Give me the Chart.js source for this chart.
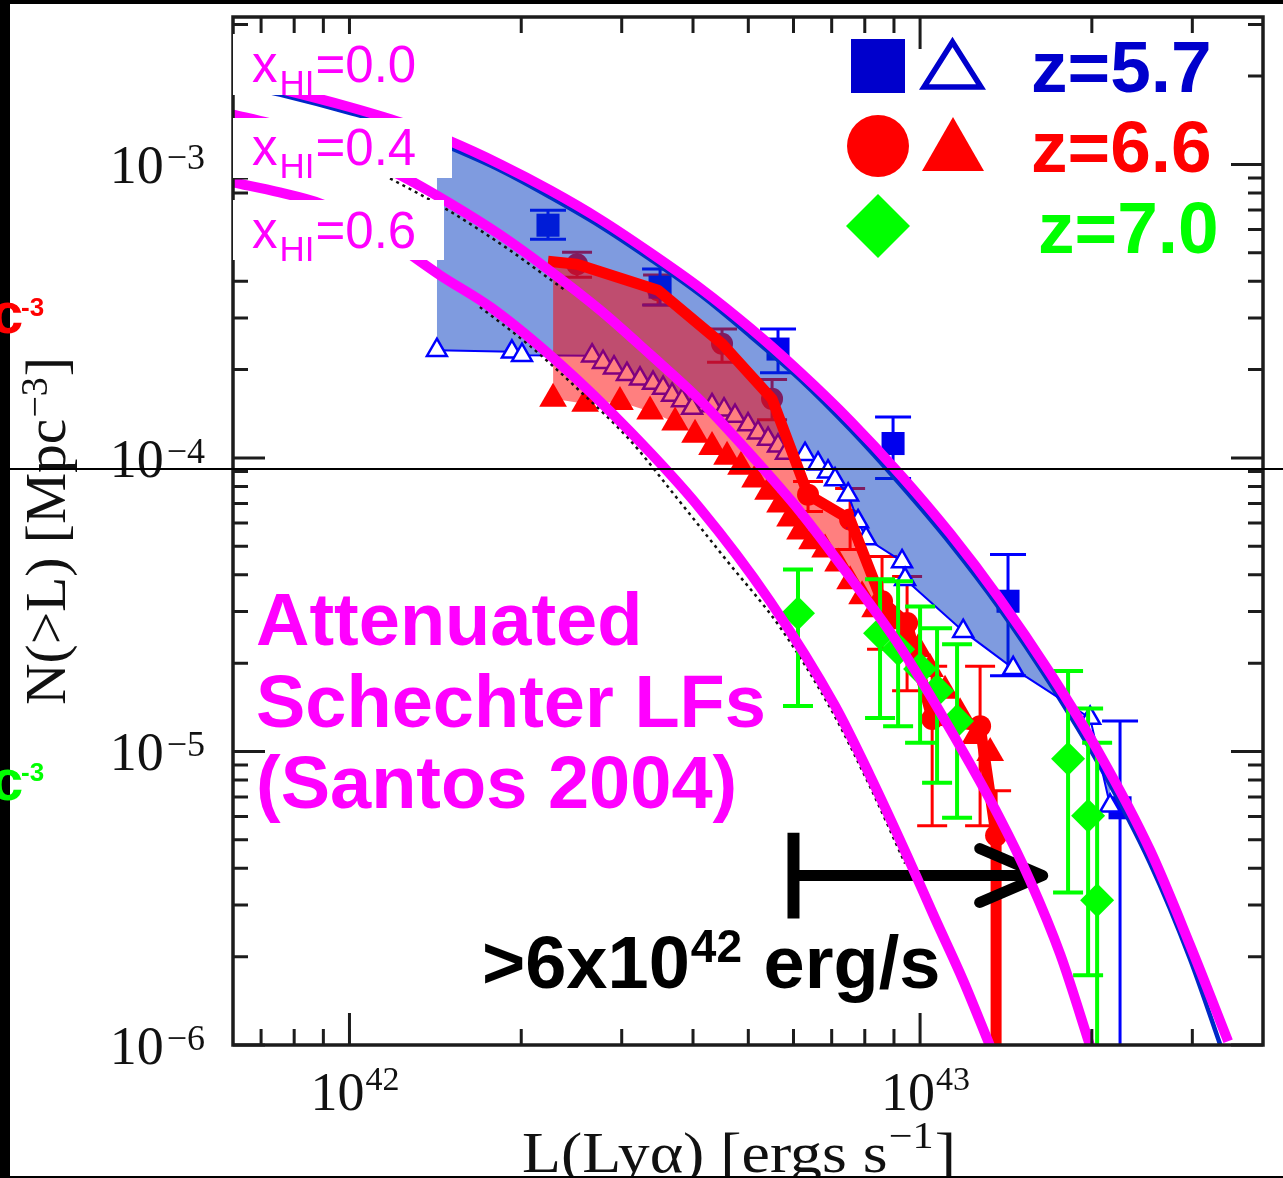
<!DOCTYPE html>
<html>
<head>
<meta charset="utf-8">
<script src="https://cdn.jsdelivr.net/npm/chart.js@4.4.1/dist/chart.umd.min.js"></script>
<style>
  html, body { margin: 0; padding: 0; background: #000; }
  canvas { display: block; }
</style>
</head>
<body>
<canvas id="lf" width="1283" height="1178"></canvas>
<script>
// ---- axis ranges and tick labels ----
const X_MIN = 6.25e41, X_MAX = 3.99e43;
const Y_MIN = 1e-6, Y_MAX = 3.18e-3;
const xMajorTicks = [1e42, 1e43];
const xMajorExp = ['42', '43'];
const yMajorTicks = [1e-6, 1e-5, 1e-4, 1e-3];
const yMajorExp = ['\u22126', '\u22125', '\u22124', '\u22123'];

// ---- attenuated Schechter LFs (Santos 2004), cumulative N(>L) ----
const schL_00 = [6.25e41, 7.55e41, 1.00e42, 1.23e42, 1.50e42, 1.84e42, 2.25e42, 2.75e42, 3.36e42, 4.12e42, 5.04e42, 6.16e42, 7.54e42, 9.23e42, 1.129e43, 1.381e43, 1.690e43, 2.068e43, 2.531e43, 2.973e43, 3.466e43];
const schN_00 = [1.97e-3, 1.81e-3, 1.57e-3, 1.39e-3, 1.20e-3, 1.00e-3, 8.16e-4, 6.50e-4, 5.02e-4, 3.79e-4, 2.77e-4, 1.96e-4, 1.34e-4, 8.78e-5, 5.53e-5, 3.30e-5, 1.85e-5, 9.74e-6, 4.60e-6, 2.19e-6, 1.03e-6];
const schL_04 = [6.25e41, 7.26e41, 8.19e41, 1.00e42, 1.23e42, 1.50e42, 1.84e42, 2.25e42, 2.75e42, 3.36e42, 4.12e42, 5.04e42, 6.16e42, 7.54e42, 9.23e42, 1.129e43, 1.381e43, 1.559e43, 1.760e43, 2.002e43];
const schN_04 = [1.48e-3, 1.38e-3, 1.28e-3, 1.10e-3, 9.17e-4, 7.37e-4, 5.74e-4, 4.33e-4, 3.19e-4, 2.26e-4, 1.57e-4, 1.03e-4, 6.57e-5, 3.92e-5, 2.27e-5, 1.19e-5, 5.90e-6, 3.63e-6, 2.04e-6, 9.46e-7];
const schL_06 = [6.25e41, 7.55e41, 8.88e41, 1.043e42, 1.226e42, 1.440e42, 1.777e42, 2.339e42, 3.102e42, 4.115e42, 5.459e42, 7.096e42, 8.173e42, 9.489e42, 1.062e43, 1.190e43, 1.327e43];
const schN_06 = [8.69e-4, 8.03e-4, 7.37e-4, 6.40e-4, 5.22e-4, 4.20e-4, 3.24e-4, 2.09e-4, 1.23e-4, 6.73e-5, 3.25e-5, 1.43e-5, 8.26e-6, 4.42e-6, 2.70e-6, 1.66e-6, 9.9e-7];
// unattenuated reference curves (dotted)
const refL_04 = [1.178e42, 1.329e42, 1.501e42, 1.693e42, 1.911e42, 2.158e42, 2.386e42];
const refN_04 = [8.96e-4, 7.91e-4, 6.92e-4, 5.97e-4, 5.10e-4, 4.30e-4, 3.73e-4];
const refL_06 = [1.693e42, 2.072e42, 2.535e42, 3.102e42, 3.720e42, 4.551e42, 5.683e42, 6.955e42, 8.173e42, 9.413e42];
const refN_06 = [3.27e-4, 2.41e-4, 1.69e-4, 1.15e-4, 7.44e-5, 4.55e-5, 2.65e-5, 1.41e-5, 7.58e-6, 4.15e-6];

// ---- z=5.7 ----
const fitL_57 = [6.25e41, 7.55e41, 1.00e42, 1.23e42, 1.50e42, 1.84e42, 2.25e42, 2.75e42, 3.36e42, 4.12e42, 5.04e42, 6.16e42, 7.54e42, 9.23e42, 1.129e43, 1.381e43, 1.690e43, 2.068e43, 2.531e43, 2.973e43, 3.383e43];
const fitN_57 = [1.88e-3, 1.73e-3, 1.50e-3, 1.33e-3, 1.14e-3, 9.54e-4, 7.73e-4, 6.16e-4, 4.76e-4, 3.59e-4, 2.60e-4, 1.85e-4, 1.25e-4, 8.12e-5, 5.11e-5, 3.05e-5, 1.70e-5, 8.87e-6, 4.15e-6, 1.96e-6, 9.6e-7];
const z57phL = [2.228e42, 3.502e42, 5.637e42, 8.967e42, 1.426e43, 2.241e43];
const z57phN = [6.21e-4, 3.82e-4, 2.35e-4, 1.12e-4, 3.25e-5, 6.43e-6];
const z57phHi = [6.98e-4, 4.40e-4, 2.75e-4, 1.38e-4, 4.69e-5, 1.27e-5];
const z57phLo = [5.56e-4, 3.32e-4, 1.95e-4, 8.51e-5, 1.81e-5, 1e-7];
const z57spL = [1.423e42, 1.926e42, 2.006e42, 2.662e42, 2.782e42, 2.908e42, 3.064e42, 3.230e42, 3.404e42, 3.545e42, 3.676e42, 3.827e42, 3.985e42, 4.319e42, 4.533e42, 4.739e42, 4.995e42, 5.200e42, 5.415e42, 5.637e42, 5.822e42, 6.286e42, 6.625e42, 6.897e42, 7.096e42, 7.480e42, 7.786e42, 8.042e42, 9.298e42, 9.413e42, 1.190e43, 1.456e43, 1.986e43, 2.153e43];
const z57spN = [2.33e-4, 2.30e-4, 2.24e-4, 2.23e-4, 2.12e-4, 2.03e-4, 1.93e-4, 1.86e-4, 1.80e-4, 1.73e-4, 1.64e-4, 1.57e-4, 1.48e-4, 1.51e-4, 1.46e-4, 1.39e-4, 1.30e-4, 1.22e-4, 1.16e-4, 1.10e-4, 1.04e-4, 1.03e-4, 9.56e-5, 8.98e-5, 8.44e-5, 7.50e-5, 6.08e-5, 5.32e-5, 4.44e-5, 3.86e-5, 2.57e-5, 1.92e-5, 1.30e-5, 6.53e-6];

// ---- z=6.6 ----
const z66phL = [2.505e42, 3.474e42, 4.497e42, 5.503e42, 6.363e42, 7.540e42, 8.577e42, 9.489e42, 1.050e43, 1.274e43, 1.359e43];
const z66phN = [4.57e-4, 3.73e-4, 2.45e-4, 1.59e-4, 7.50e-5, 6.17e-5, 3.25e-5, 2.74e-5, 1.29e-5, 1.22e-5, 5.17e-6];
const z66phHi = [5.02e-4, 4.20e-4, 2.75e-4, 1.85e-4, 8.31e-5, 7.87e-5, 4.62e-5, 3.95e-5, 1.95e-5, 1.95e-5, 7.35e-6];
const z66phLo = [4.13e-4, 3.32e-4, 2.12e-4, 1.35e-4, 6.57e-5, 4.88e-5, 2.23e-5, 1.61e-5, 5.59e-6, 5.59e-6, 1e-7];
const z66bandStart = { x: 2.228e42, y: 4.68e-4 };   // left edge of the shaded z=6.6 band
const z66bandEndN = 1e-7;                            // last bin drops to zero
const z66spL = [2.274e42, 2.588e42, 2.979e42, 3.364e42, 3.721e42, 4.033e42, 4.319e42, 4.589e42, 4.855e42, 5.138e42, 5.415e42, 5.683e42, 5.917e42, 6.160e42, 6.466e42, 6.815e42, 7.183e42, 7.540e42, 7.913e42, 8.339e42, 8.859e42, 9.413e42, 9.920e42, 1.041e43, 1.106e43, 1.175e43, 1.249e43, 1.327e43];
const z66spN = [1.59e-4, 1.53e-4, 1.55e-4, 1.44e-4, 1.32e-4, 1.20e-4, 1.09e-4, 1.01e-4, 9.34e-5, 8.44e-5, 7.68e-5, 6.94e-5, 6.22e-5, 5.62e-5, 5.20e-5, 4.88e-5, 4.37e-5, 3.80e-5, 3.38e-5, 3.05e-5, 2.78e-5, 2.53e-5, 2.23e-5, 1.91e-5, 1.61e-5, 1.35e-5, 1.13e-5, 9.89e-6];

// ---- z=7.0 ----
const z70L = [6.110e42, 8.508e42, 9.151e42, 1.000e43, 1.071e43, 1.161e43, 1.817e43, 1.970e43, 2.043e43];
const z70N = [2.96e-5, 2.53e-5, 2.23e-5, 1.91e-5, 1.61e-5, 1.27e-5, 9.44e-6, 6.04e-6, 3.11e-6];
const z70Hi = [4.17e-5, 3.86e-5, 3.80e-5, 3.12e-5, 2.63e-5, 2.32e-5, 1.88e-5, 1.40e-5, 1.07e-5];
const z70Lo = [1.43e-5, 1.30e-5, 1.22e-5, 1.07e-5, 7.82e-6, 5.95e-6, 3.31e-6, 1.73e-6, 1e-7];

// ---- luminosity limit arrow ----
const limitL = 6e42, arrowTipL = 1.64e43, arrowN = 3.78e-6, barTopN = 5.29e-6, barBotN = 2.70e-6;

const pts = (xs, ys) => xs.map((x, i) => ({ x, y: ys[i] }));
const z66line = [z66bandStart, ...pts(z66phL, z66phN), { x: z66phL[z66phL.length - 1], y: z66bandEndN }];

const MAGENTA = '#ff00ff';
const SANS = '"Liberation Sans", Arial, sans-serif';
const SERIF = '"Liberation Serif", "Times New Roman", serif';

const datasets = [
  { label: 'z66ph', data: pts(z66phL, z66phN), showLine: false, pointStyle: 'circle', pointRadius: 11,
    pointBackgroundColor: '#ff0000', pointBorderWidth: 0, fill: false,
    errHi: z66phHi, errLo: z66phLo, errColor: '#ff0000', errWidth: 3, errCap: 15, order: 100 },
  { label: 'z57ph', data: pts(z57phL, z57phN), showLine: false, pointStyle: 'rect', pointRadius: 16.3,
    pointBackgroundColor: '#0000ee', pointBorderWidth: 0, fill: false,
    errHi: z57phHi, errLo: z57phLo, errColor: '#0000ff', errWidth: 3, errCap: 18, order: 90 },
  { label: 'z57fit', data: pts(fitL_57, fitN_57), borderColor: '#0028c8', borderWidth: 4.5, pointRadius: 0,
    cubicInterpolationMode: 'monotone', fill: false, order: 80 },
  { label: 'z57sp', data: pts(z57spL, z57spN), borderColor: '#0000ff', borderWidth: 2,
    pointStyle: 'triangle', pointRadius: 11.5, pointBorderColor: '#0000ff', pointBackgroundColor: '#ffffff',
    pointBorderWidth: 2.5, backgroundColor: 'rgba(0,55,192,0.5)',
    fill: { target: 2, above: 'rgba(0,0,0,0)', below: 'rgba(0,55,192,0.5)' }, order: 70 },
  { label: 'z66sp', data: pts(z66spL, z66spN), borderWidth: 0, borderColor: 'rgba(0,0,0,0)',
    pointStyle: 'triangle', pointRadius: 16, pointBackgroundColor: '#ff0000', pointBorderWidth: 0,
    backgroundColor: 'rgba(255,0,0,0.5)',
    fill: { target: 5, above: 'rgba(0,0,0,0)', below: 'rgba(255,0,0,0.5)' }, order: 60 },
  { label: 'z66line', data: z66line, borderColor: '#ff0000', borderWidth: 11, pointRadius: 0,
    borderJoinStyle: 'round', fill: false, order: 50 },
  { label: 'ref04', data: pts(refL_04, refN_04), borderColor: '#111', borderWidth: 2.5, borderDash: [3, 4],
    pointRadius: 0, cubicInterpolationMode: 'monotone', fill: false, order: 46 },
  { label: 'ref06', data: pts(refL_06, refN_06), borderColor: '#111', borderWidth: 2.5, borderDash: [3, 4],
    pointRadius: 0, cubicInterpolationMode: 'monotone', fill: false, order: 45 },
  { label: 'z70', data: pts(z70L, z70N), showLine: false, pointStyle: 'rectRot', pointRadius: 17,
    pointBackgroundColor: '#00ff00', pointBorderWidth: 0, fill: false,
    errHi: z70Hi, errLo: z70Lo, errColor: '#00ff00', errWidth: 4, errCap: 15, order: 44 },
  { label: 'xHI06', data: pts(schL_06, schN_06), borderColor: MAGENTA, borderWidth: 10, pointRadius: 0,
    cubicInterpolationMode: 'monotone', fill: false, order: 40 },
  { label: 'xHI04', data: pts(schL_04, schN_04), borderColor: MAGENTA, borderWidth: 10, pointRadius: 0,
    cubicInterpolationMode: 'monotone', fill: false, order: 39 },
  { label: 'xHI00', data: pts(schL_00, schN_00), borderColor: MAGENTA, borderWidth: 10, pointRadius: 0,
    cubicInterpolationMode: 'monotone', fill: false, order: 38 }
];

function minorTicks(min, max) {
  const out = [];
  for (let k = Math.floor(Math.log10(min)); k <= Math.ceil(Math.log10(max)); k++) {
    for (let m = 2; m <= 9; m++) {
      const v = m * Math.pow(10, k);
      if (v > min && v < max) out.push(v);
    }
  }
  return out;
}

function drawArrow(chart) {
  const { ctx, scales: { x, y } } = chart;
  const x0 = x.getPixelForValue(limitL), x1 = x.getPixelForValue(arrowTipL);
  const yA = y.getPixelForValue(arrowN);
  const yT = y.getPixelForValue(barTopN), yB = y.getPixelForValue(barBotN);
  ctx.save();
  ctx.strokeStyle = '#000';
  ctx.lineWidth = 12; ctx.lineCap = 'butt';
  ctx.beginPath(); ctx.moveTo(x0, yT); ctx.lineTo(x0, yB); ctx.stroke();
  ctx.lineWidth = 11;
  ctx.beginPath(); ctx.moveTo(x0, yA); ctx.lineTo(x1 - 4, yA); ctx.stroke();
  ctx.lineCap = 'round'; ctx.lineJoin = 'round';
  ctx.beginPath(); ctx.moveTo(x1 - 63, yA - 27); ctx.lineTo(x1, yA); ctx.lineTo(x1 - 63, yA + 27); ctx.stroke();
  ctx.restore();
}

function drawFrame(chart) {
  const { ctx, chartArea: a, scales: { x, y } } = chart;
  ctx.save();
  ctx.strokeStyle = '#1c1c1c';
  ctx.lineWidth = 3;
  const xt = [...xMajorTicks.map(v => [v, 32]), ...minorTicks(X_MIN, X_MAX).map(v => [v, 16])];
  const yt = [...yMajorTicks.map(v => [v, 32]), ...minorTicks(Y_MIN, Y_MAX).map(v => [v, 15])];
  ctx.beginPath();
  xt.forEach(([v, len]) => {
    const px = x.getPixelForValue(v);
    ctx.moveTo(px, a.bottom); ctx.lineTo(px, a.bottom - len);
    ctx.moveTo(px, a.top); ctx.lineTo(px, a.top + len);
  });
  yt.forEach(([v, len]) => {
    const py = y.getPixelForValue(v);
    ctx.moveTo(a.left, py); ctx.lineTo(a.left + len, py);
    ctx.moveTo(a.right, py); ctx.lineTo(a.right - len, py);
  });
  ctx.stroke();
  ctx.lineWidth = 3.5;
  ctx.strokeRect(a.left, a.top, a.right - a.left, a.bottom - a.top);

  // tick labels
  ctx.fillStyle = '#111';
  ctx.textBaseline = 'alphabetic';
  yMajorTicks.forEach((v, i) => {
    const py = y.getPixelForValue(v);
    ctx.font = '36px ' + SERIF;
    const sw = ctx.measureText(yMajorExp[i]).width;
    ctx.fillText(yMajorExp[i], 205 - sw, py + 5);
    ctx.font = '54px ' + SERIF;
    const tw = ctx.measureText('10').width;
    ctx.fillText('10', 205 - sw - 3 - tw, py + 19);
  });
  xMajorTicks.forEach((v, i) => {
    const px = x.getPixelForValue(v);
    ctx.font = '54px ' + SERIF;
    const tw = ctx.measureText('10').width;
    ctx.font = '34px ' + SERIF;
    const sw = ctx.measureText(xMajorExp[i]).width;
    const left = px + 5 - (tw + sw) / 2;
    ctx.fillText(xMajorExp[i], left + tw + 1, 1090);
    ctx.font = '54px ' + SERIF;
    ctx.fillText('10', left, 1110);
  });

  // axis titles
  const title = (p1, sup, p3, target, raise) => {
    ctx.font = '56px ' + SERIF; const w1 = ctx.measureText(p1).width; const w3 = ctx.measureText(p3).width;
    ctx.font = '37px ' + SERIF; const ws = ctx.measureText(sup).width;
    ctx.scale(target / (w1 + ws + w3 + 2), 1);
    ctx.font = '56px ' + SERIF; ctx.fillText(p1, 0, 0); ctx.fillText(p3, w1 + ws + 2, 0);
    ctx.font = '37px ' + SERIF; ctx.fillText(sup, w1 + 1, -raise);
  };
  ctx.save();
  ctx.translate(522, 1172);
  title('L(Ly\u03b1) [ergs s', '\u22121', ']', 434, 24);
  ctx.restore();
  ctx.save();
  ctx.translate(65, 705);
  ctx.rotate(-Math.PI / 2);
  title('N(>L) [Mpc', '\u22123', ']', 348, 18);
  ctx.restore();
  ctx.restore();
}

function drawNotes(chart) {
  const { ctx } = chart;
  ctx.save();
  ctx.textBaseline = 'alphabetic';
  // model annotation
  ctx.fillStyle = MAGENTA;
  ctx.font = 'bold 74px ' + SANS;
  ctx.fillText('Attenuated', 256, 645);
  ctx.fillText('Schechter LFs', 256, 727);
  ctx.fillText('(Santos 2004)', 256, 808);

  // luminosity limit label
  ctx.fillStyle = '#000';
  ctx.font = 'bold 74px ' + SANS;
  ctx.fillText('>6x10', 482, 988);
  const w = ctx.measureText('>6x10').width;
  ctx.font = 'bold 46px ' + SANS;
  ctx.fillText('42', 482 + w + 1, 962);
  const w2 = ctx.measureText('42').width;
  ctx.font = 'bold 74px ' + SANS;
  ctx.fillText(' erg/s', 482 + w + w2 + 2, 988);

  // legend
  ctx.fillStyle = '#0000cc';
  ctx.fillRect(851, 39, 54, 54);
  ctx.strokeStyle = '#0000cc'; ctx.lineWidth = 5.5; ctx.lineJoin = 'miter';
  ctx.beginPath(); ctx.moveTo(952.5, 42); ctx.lineTo(981, 87); ctx.lineTo(924, 87); ctx.closePath(); ctx.stroke();
  ctx.fillStyle = '#ff0000';
  ctx.beginPath(); ctx.arc(878, 146, 31, 0, Math.PI * 2); ctx.fill();
  ctx.beginPath(); ctx.moveTo(953, 117); ctx.lineTo(984, 171); ctx.lineTo(922, 171); ctx.closePath(); ctx.fill();
  ctx.fillStyle = '#00ff00';
  ctx.beginPath(); ctx.moveTo(878, 194); ctx.lineTo(910, 226); ctx.lineTo(878, 258); ctx.lineTo(846, 226); ctx.closePath(); ctx.fill();
  ctx.font = 'bold 73px ' + SANS;
  ctx.fillStyle = '#0000cc'; ctx.fillText('z=5.7', 1031, 92);
  ctx.fillStyle = '#ff0000'; ctx.fillText('z=6.6', 1031, 172);
  ctx.fillStyle = '#00ff00'; ctx.fillText('z=7.0', 1038, 253);

  // neutral fraction labels on white boxes
  const boxes = [[34, 95, 460, '0.0', 82], [118, 178, 452, '0.4', 165], [200, 260, 444, '0.6', 248]];
  boxes.forEach(([top, bottom, right, val, base]) => {
    ctx.fillStyle = '#fff';
    ctx.fillRect(233, top, right - 233, bottom - top);
    ctx.fillStyle = MAGENTA;
    ctx.font = '51px ' + SANS;
    ctx.fillText('x', 252, base);
    const xw = ctx.measureText('x').width;
    ctx.font = '35px ' + SANS;
    ctx.fillText('HI', 252 + xw + 2, base + 13);
    const hw = ctx.measureText('HI').width;
    ctx.font = '51px ' + SANS;
    ctx.fillText('=' + val, 252 + xw + hw + 3, base);
  });
  ctx.restore();
}

const slidePlugin = {
  id: 'slidePlugin',
  beforeDraw(chart) {
    const { ctx, width, height } = chart;
    ctx.save();
    ctx.fillStyle = '#000';
    ctx.fillRect(0, 0, width, height);
    ctx.fillStyle = '#fff';
    ctx.fillRect(10, 4, width - 10, 1172);
    ctx.restore();
  },
  beforeDatasetDraw(chart, args) {
    const ds = chart.data.datasets[args.index];
    if (!ds.errHi) return;
    const { ctx, chartArea: a, scales: { x, y } } = chart;
    ctx.save();
    ctx.beginPath(); ctx.rect(a.left, a.top, a.right - a.left, a.bottom - a.top); ctx.clip();
    ctx.strokeStyle = ds.errColor;
    ctx.lineWidth = ds.errWidth;
    ctx.beginPath();
    ds.data.forEach((p, i) => {
      const px = x.getPixelForValue(p.x);
      const hi = y.getPixelForValue(ds.errHi[i]);
      const lo = y.getPixelForValue(ds.errLo[i]);
      ctx.moveTo(px, hi); ctx.lineTo(px, lo);
      ctx.moveTo(px - ds.errCap, hi); ctx.lineTo(px + ds.errCap, hi);
      if (lo < a.bottom) { ctx.moveTo(px - ds.errCap, lo); ctx.lineTo(px + ds.errCap, lo); }
    });
    ctx.stroke();
    ctx.restore();
  },
  afterDatasetDraw(chart, args) {
    if (chart.data.datasets[args.index].label === 'z70') drawArrow(chart);
  },
  afterDatasetsDraw(chart) {
    drawFrame(chart);
    drawNotes(chart);
  },
  afterDraw(chart) {
    const { ctx, width } = chart;
    ctx.save();
    ctx.fillStyle = '#000';
    ctx.fillRect(0, 1176, width, 2);
    ctx.strokeStyle = '#000';
    ctx.lineWidth = 2;
    ctx.beginPath(); ctx.moveTo(0, 469); ctx.lineTo(width, 469); ctx.stroke();
    // edges of the neighbouring panel's axis units
    ctx.font = 'bold 58px ' + SANS;
    ctx.fillStyle = '#ff0000'; ctx.fillText('c', -9, 333);
    ctx.fillStyle = '#00ff00'; ctx.fillText('c', -9, 800);
    ctx.font = 'bold 26px ' + SANS;
    ctx.fillStyle = '#ff0000'; ctx.fillText('-3', 21, 316);
    ctx.fillStyle = '#00ff00'; ctx.fillText('-3', 21, 781);
    ctx.restore();
  }
};

new Chart(document.getElementById('lf'), {
  type: 'line',
  data: { datasets },
  options: {
    responsive: false,
    animation: false,
    devicePixelRatio: 1,
    events: [],
    layout: { padding: { left: 233, top: 14, right: 20, bottom: 133 } },
    elements: { line: { tension: 0 } },
    plugins: { legend: { display: false }, tooltip: { enabled: false } },
    scales: {
      x: { type: 'logarithmic', min: X_MIN, max: X_MAX, display: false },
      y: { type: 'logarithmic', min: Y_MIN, max: Y_MAX, display: false }
    }
  },
  plugins: [slidePlugin]
});
</script>
</body>
</html>
